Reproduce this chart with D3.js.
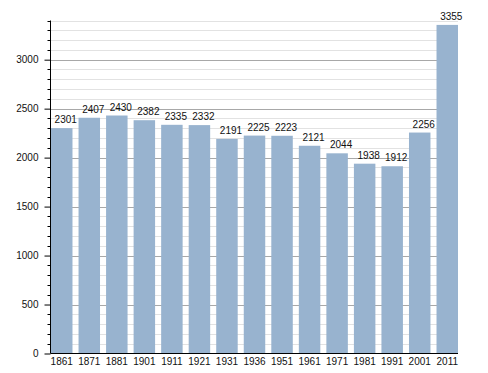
<!DOCTYPE html>
<html><head><meta charset="utf-8">
<script src="https://cdn.jsdelivr.net/npm/d3@7"></script>
<style>body{margin:0;background:#fff}svg{display:block;font-family:"Liberation Sans",Arial,sans-serif}</style>
</head><body><svg id="c" width="488" height="373"></svg>
<script>
const years = ["1861","1871","1881","1901","1911","1921","1931","1936","1951","1961","1971","1981","1991","2001","2011"];
const population = [2301,2407,2430,2382,2335,2332,2191,2225,2223,2121,2044,1938,1912,2256,3355];
const yTicks = [0,500,1000,1500,2000,2500,3000];

const svg = d3.select("#c");
const x0 = 50.5, x1 = 458, yBottom = 353.5, yTop = 20.5;
const x = d3.scaleBand().domain(years).range([51, 458]).paddingInner(0.22).paddingOuter(0);
const y = d3.scaleLinear().domain([0, 3400]).range([yBottom, yTop]);

const minor = d3.range(100, 3401, 100).filter(v => v % 500 !== 0);
svg.append("g").selectAll("line").data(minor).join("line")
  .attr("x1", x0).attr("x2", x1).attr("y1", d => Math.round(y(d)) + 0.5).attr("y2", d => Math.round(y(d)) + 0.5)
  .attr("stroke", "#e2e2e2").attr("stroke-width", 1);
svg.append("g").selectAll("line").data(yTicks.filter(d => d > 0)).join("line")
  .attr("x1", x0).attr("x2", x1).attr("y1", d => Math.round(y(d)) + 0.5).attr("y2", d => Math.round(y(d)) + 0.5)
  .attr("stroke", "#a8a8a8").attr("stroke-width", 1);

svg.append("g").selectAll("rect").data(population).join("rect")
  .attr("x", (d, i) => x(years[i])).attr("width", x.bandwidth())
  .attr("y", d => y(d)).attr("height", d => yBottom - y(d))
  .attr("fill", "#98b3cf");

svg.append("g").selectAll("text").data(population).join("text")
  .attr("x", (d, i) => x(years[i]) + x.bandwidth() / 2 + 4)
  .attr("y", d => y(d) - 5)
  .attr("text-anchor", "middle").attr("font-size", 10).attr("fill", "#111")
  .text(d => d);

// y axis
const ya = svg.append("g").attr("transform", `translate(${x0},0)`)
  .call(d3.axisLeft(y).tickValues(yTicks).tickSize(6).tickPadding(6).tickFormat(d3.format("d")));
ya.select(".domain").remove();
ya.selectAll(".tick line").attr("stroke", "#000");
ya.selectAll(".tick text").attr("font-size", 10).attr("font-family", "Liberation Sans, Arial, sans-serif").attr("fill", "#111");
svg.append("g").selectAll("line").data(minor).join("line")
  .attr("x1", x0 - 3).attr("x2", x0).attr("y1", d => Math.round(y(d)) + 0.5).attr("y2", d => Math.round(y(d)) + 0.5)
  .attr("stroke", "#000");
svg.append("line").attr("x1", x0).attr("x2", x0).attr("y1", yTop).attr("y2", yBottom).attr("stroke", "#000");

// x axis
const xa = svg.append("g").attr("transform", `translate(0,${yBottom})`)
  .call(d3.axisBottom(x).tickSize(0).tickPadding(4));
xa.select(".domain").attr("d", `M${x0},0H${x1}`).attr("stroke", "#000");
xa.selectAll(".tick text").attr("font-size", 10).attr("font-family", "Liberation Sans, Arial, sans-serif").attr("fill", "#111");
</script></body></html>
